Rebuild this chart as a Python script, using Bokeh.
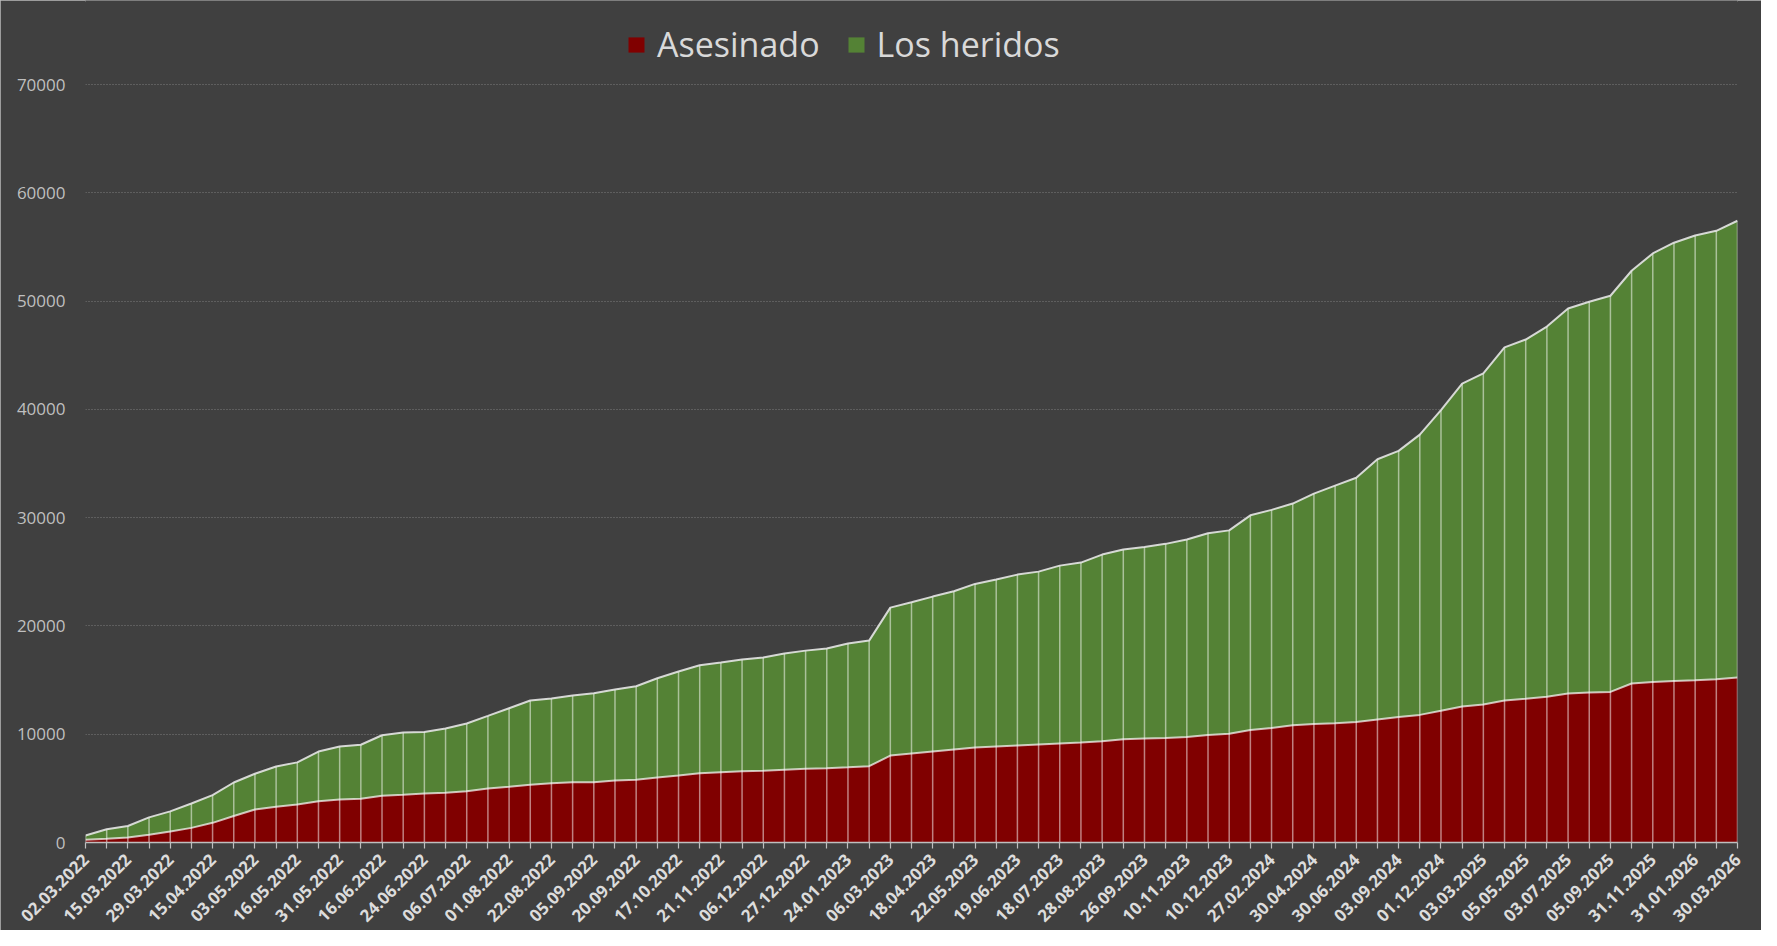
import math
from bokeh.plotting import figure
from bokeh.models import (ColumnDataSource, FixedTicker, Range1d, Legend, LegendItem,
                          NumeralTickFormatter)
from bokeh.embed import file_html
from bokeh.resources import INLINE

# ---- data ----
tick_labels = [
    "02.03.2022", "15.03.2022", "29.03.2022", "15.04.2022", "03.05.2022", "16.05.2022",
    "31.05.2022", "16.06.2022", "24.06.2022", "06.07.2022", "01.08.2022", "22.08.2022",
    "05.09.2022", "20.09.2022", "17.10.2022", "21.11.2022", "06.12.2022", "27.12.2022",
    "24.01.2023", "06.03.2023", "18.04.2023", "22.05.2023", "19.06.2023", "18.07.2023",
    "28.08.2023", "26.09.2023", "10.11.2023", "10.12.2023", "27.02.2024", "30.04.2024",
    "30.06.2024", "03.09.2024", "01.12.2024", "03.03.2025", "05.05.2025", "03.07.2025",
    "05.09.2025", "31.11.2025", "31.01.2026", "30.03.2026",
]

asesinado = [
    250, 350, 470, 720, 1015, 1350, 1815, 2445, 3045, 3305,
    3505, 3800, 3970, 4045, 4320, 4415, 4520, 4600, 4725, 4985,
    5155, 5335, 5475, 5560, 5575, 5720, 5785, 6000, 6185, 6400,
    6490, 6585, 6615, 6710, 6800, 6860, 6950, 7045, 8030, 8215,
    8400, 8585, 8770, 8860, 8950, 9045, 9140, 9230, 9355, 9540,
    9600, 9640, 9735, 9930, 10045, 10395, 10585, 10820, 10935, 11010,
    11130, 11360, 11590, 11785, 12170, 12560, 12750, 13120, 13270, 13465,
    13760, 13850, 13910, 14680, 14830, 14925, 14985, 15080, 15230,
]

heridos = [
    390, 880, 1050, 1600, 1860, 2250, 2555, 3095, 3305, 3710,
    3895, 4600, 4890, 4985, 5585, 5735, 5695, 5920, 6260, 6705,
    7245, 7775, 7815, 8010, 8210, 8400, 8645, 9170, 9600, 9970,
    10125, 10305, 10465, 10740, 10920, 11050, 11420, 11600, 13660, 13970,
    14310, 14615, 15110, 15420, 15790, 15970, 16430, 16620, 17235, 17510,
    17690, 17940, 18240, 18625, 18780, 19820, 20135, 20480, 21290, 21950,
    22560, 24030, 24580, 25885, 27760, 29820, 30570, 32600, 33180, 34185,
    35550, 36090, 36585, 38120, 39570, 40465, 41075, 41410, 42190,
]

y_ticks = [0, 10000, 20000, 30000, 40000, 50000, 60000, 70000]

# ---- build ----
n = len(asesinado)
xs = list(range(n))
total = [a + h for a, h in zip(asesinado, heridos)]
zeros = [0] * n
source = ColumnDataSource(dict(x=xs, asesinado=asesinado, heridos=heridos,
                               total=total, zero=zeros))

RED = "#800000"
GREEN = "#548235"
BG = "#404040"

p = figure(frame_width=1652, frame_height=842, output_backend="svg", toolbar_location=None,
           x_range=Range1d(0, n - 1), y_range=Range1d(0, 77760),
           min_border_left=85, min_border_right=24, min_border_top=0, min_border_bottom=88)
p.background_fill_color = BG
p.border_fill_color = BG
p.outline_line_color = None
p.styles = {"background-color": BG, "outline": "2px solid #bdbdbd",
            "outline-offset": "-2px"}

areas = p.varea_stack(stackers=["asesinado", "heridos"], x="x", color=[RED, GREEN],
                      source=source)

p.segment(x0="x", y0="zero", x1="x", y1="total", source=source,
          line_color="white", line_alpha=0.5, line_width=1.5)

p.line(x="x", y="asesinado", source=source, line_color="white", line_alpha=0.7, line_width=2)
p.line(x="x", y="total", source=source, line_color="#e6e6e6", line_alpha=0.9, line_width=2)

# grid
p.xgrid.visible = False
p.ygrid.ticker = FixedTicker(ticks=y_ticks[1:])
p.ygrid.grid_line_color = "#8c8c8c"
p.ygrid.grid_line_alpha = 0.8
p.ygrid.grid_line_dash = "1 2"
p.ygrid.grid_line_width = 1

# y axis
ya = p.yaxis[0]
ya.ticker = FixedTicker(ticks=y_ticks)
ya.formatter = NumeralTickFormatter(format="0")
ya.axis_line_color = None
ya.major_tick_line_color = None
ya.minor_tick_line_color = None
ya.major_label_text_color = "#bfbfbf"
ya.major_label_text_font = "Open Sans"
ya.major_label_text_font_size = "17px"
ya.major_label_standoff = 14

# x axis
xa = p.xaxis[0]
xa.ticker = FixedTicker(ticks=xs)
overrides = {}
for i in xs:
    overrides[i] = tick_labels[i // 2] if i % 2 == 0 else ""
xa.major_label_overrides = overrides
xa.major_label_orientation = math.pi / 4
xa.major_label_text_color = "#dcdcdc"
xa.major_label_text_font = "Open Sans"
xa.major_label_text_font_style = "bold"
xa.major_label_text_font_size = "17px"
xa.major_label_standoff = 8
xa.axis_line_color = "#bfbfbf"
xa.axis_line_width = 1.5
xa.major_tick_line_color = "#bfbfbf"
xa.major_tick_line_width = 1.2
xa.major_tick_in = 0
xa.major_tick_out = 6
xa.minor_tick_line_color = None

# legend
legend = Legend(items=[LegendItem(label="Asesinado", renderers=[areas[0]]),
                       LegendItem(label="Los heridos", renderers=[areas[1]])],
                orientation="horizontal", location=(541, 775),
                padding=0, margin=0, spacing=26, label_standoff=11,
                glyph_width=20, glyph_height=19,
                label_text_font="Open Sans", label_text_font_size="34px",
                label_text_color="#d9d9d9",
                background_fill_alpha=0, border_line_color=None)
p.add_layout(legend)

open("out.html", "w").write(file_html(p, INLINE))
